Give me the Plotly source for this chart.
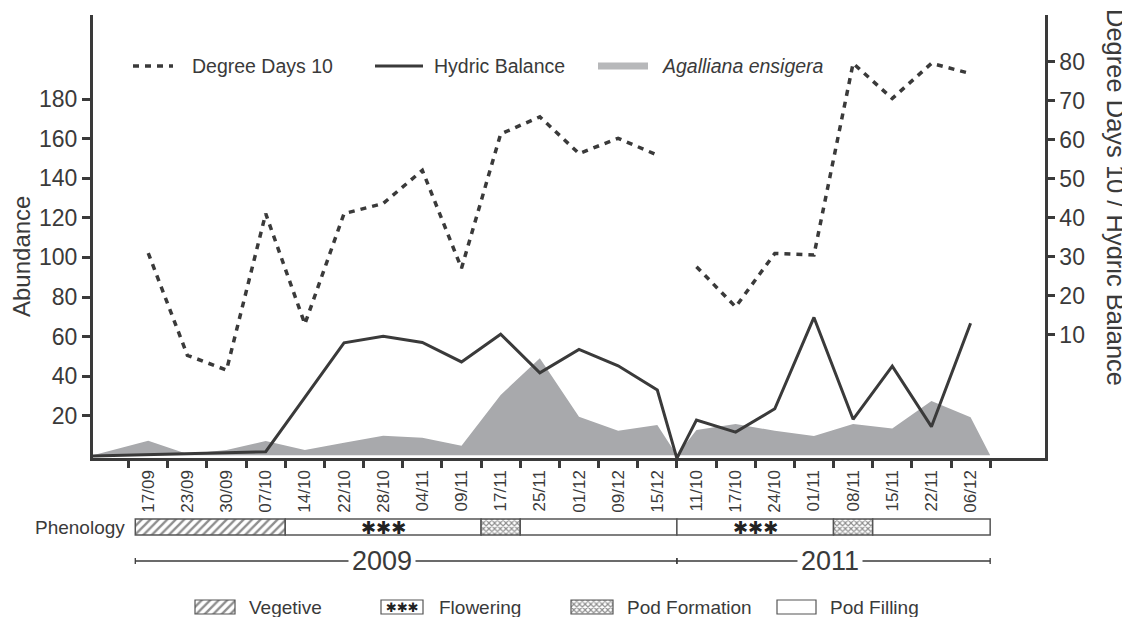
import plotly.graph_objects as go

# ---------------- data ----------------
dates_2009 = ["17/09", "23/09", "30/09", "07/10", "14/10", "22/10", "28/10",
              "04/11", "09/11", "17/11", "25/11", "01/12", "09/12", "15/12"]
dates_2011 = ["11/10", "17/10", "24/10", "01/11", "08/11", "15/11", "22/11", "06/12"]

abundance_2009 = [7.4, 0.7, 2.7, 7.2, 2.7, 6.4, 9.9, 8.9, 4.9, 30.5, 49.0, 19.5, 12.4, 15.3]
abundance_2011 = [12.8, 15.8, 12.4, 9.8, 15.8, 13.6, 27.4, 19.2]

dd10_2009 = [31.0, 4.8, 1.0, 41.1, 12.8, 41.1, 43.7, 52.2, 27.1, 61.5, 65.9, 56.5, 60.4, 56.1]
dd10_2011 = [27.5, 17.2, 30.9, 30.5, 79.6, 70.6, 79.6, 77.0]

hydric_2009 = [-20.6, -20.3, -20.1, -19.9, -6.0, 8.0, 9.7, 8.1, 3.1, 10.2, 0.3, 6.3, 2.1, -4.1]
hydric_2011 = [-11.8, -14.9, -8.9, 14.5, -11.6, 2.0, -13.5, 13.0]
hydric_start = -21.0   # value at the axis origin
hydric_break = -21.6   # value at the gap between the two seasons

left_ticks = [20, 40, 60, 80, 100, 120, 140, 160, 180]
right_ticks = [10, 20, 30, 40, 50, 60, 70, 80]

# phenology stages: (stage, start, end) in category units
phenology = [("Vegetive", -0.33, 3.5), ("Flowering", 3.5, 8.5), ("Pod Formation", 8.5, 9.5),
             ("Pod Filling", 9.5, 13.5), ("Flowering", 13.5, 17.5), ("Pod Formation", 17.5, 18.5),
             ("Pod Filling", 18.5, 21.5)]
seasons = [("2009", -0.33, 13.5, 5.97), ("2011", 13.5, 21.5, 17.41)]

# ---------------- layout helpers ----------------
OFF = 8                      # page body margin of the html page
W, H = 1130 - OFF, 617 - OFF
PLOT_L, PLOT_R, PLOT_T, PLOT_B = 93, 1045, 15, 617   # screen pixels
ML, MR, MT, MB = PLOT_L - OFF, W - (PLOT_R - OFF), PLOT_T - OFF, 0
PW, PH = W - ML - MR, H - MT - MB
INK = "#3a3a3a"
AREA = "#a8a9ac"
FONT = "Liberation Sans, Arial, sans-serif"


def px_x(px):
    return (px - PLOT_L) / PW


def px_y(py):
    return (PLOT_B - py) / PH


X_MIN, X_MAX = -1.41, 22.9
Y_LEFT = [-1.5, 222.5]
Y_RIGHT = [-21.6, 92.0]

dates = dates_2009 + dates_2011
n09, n11 = len(dates_2009), len(dates_2011)
idx09 = list(range(n09))
idx11 = list(range(n09, n09 + n11))
gap = n09 - 0.5
end = n09 + n11 - 0.5

fig = go.Figure()

# Agalliana ensigera area
fig.add_trace(go.Scatter(
    x=[X_MIN] + idx09 + [gap] + idx11 + [end],
    y=[0] + abundance_2009 + [0] + abundance_2011 + [0],
    mode="lines", fill="tozeroy", fillcolor=AREA, line=dict(width=0, color=AREA),
    name="Agalliana ensigera", xaxis="x", yaxis="y"))

# Hydric balance
fig.add_trace(go.Scatter(
    x=[X_MIN] + idx09 + [gap] + idx11,
    y=[hydric_start] + hydric_2009 + [hydric_break] + hydric_2011,
    mode="lines", line=dict(color=INK, width=3), name="Hydric Balance",
    xaxis="x", yaxis="y2", cliponaxis=False))

# Degree days 10
fig.add_trace(go.Scatter(
    x=idx09 + [gap] + idx11,
    y=dd10_2009 + [None] + dd10_2011,
    mode="lines", connectgaps=False,
    line=dict(color=INK, width=3.5, dash="6px,6px"), name="Degree Days 10",
    xaxis="x", yaxis="y2"))

# phenology bar
pattern_for = {
    "Vegetive": dict(shape="/", fgcolor="#1e1e1e", bgcolor="white", size=6, solidity=0.4),
    "Flowering": dict(shape="", bgcolor="white"),
    "Pod Formation": dict(shape="x", fgcolor="#1e1e1e", bgcolor="white", size=4, solidity=0.5),
    "Pod Filling": dict(shape="", bgcolor="white"),
}
for stage, s, e in phenology:
    fig.add_trace(go.Bar(
        x=[e - s], base=[s], y=[0], orientation="h", width=[1],
        marker=dict(color="white", line=dict(color="#555555", width=1.5),
                    pattern=pattern_for[stage]),
        xaxis="x", yaxis="y3", name=stage))

# bottom legend swatches (axis x3 is mapped to screen pixels)
legend_items = [("Vegetive", 195, 235, 247), ("Flowering", 381, 423, 437),
                ("Pod Formation", 571, 613, 625), ("Pod Filling", 777, 816, 828)]
for stage, a, b, _ in legend_items:
    fig.add_trace(go.Bar(
        x=[b - a], base=[a], y=[0], orientation="h", width=[1],
        marker=dict(color="white", line=dict(color="#555555", width=1.2),
                    pattern=pattern_for[stage]),
        xaxis="x3", yaxis="y4", name=stage))

annotations = []
shapes = []

# flowering asterisks
for stage, s, e in phenology:
    if stage == "Flowering":
        annotations.append(dict(x=(s + e) / 2, y=0, xref="x", yref="y3", text="✱✱✱",
                                xanchor="center", yanchor="middle", showarrow=False,
                                font=dict(size=18, color="#222222", family="DejaVu Sans")))
annotations.append(dict(x=(381 + 423) / 2, y=0, xref="x3", yref="y4", text="✱✱✱",
                        xanchor="center", yanchor="middle", showarrow=False,
                        font=dict(size=13, color="#222222", family="DejaVu Sans")))
for stage, a, b, tx in legend_items:
    annotations.append(dict(x=px_x(tx), y=px_y(607), xref="paper", yref="paper", text=stage,
                            xanchor="left", yanchor="middle", showarrow=False,
                            font=dict(size=19, color=INK)))

# season lines
yl = px_y(561)
for label, s, e, cx in seasons:
    shapes.append(dict(type="line", xref="x", yref="paper", x0=s, x1=e, y0=yl, y1=yl,
                       line=dict(color=INK, width=1.3)))
    for xx in (s, e):
        shapes.append(dict(type="line", xref="x", yref="paper", x0=xx, x1=xx,
                           y0=px_y(564), y1=px_y(558), line=dict(color=INK, width=1.3)))
    annotations.append(dict(x=cx, y=yl, xref="x", yref="paper", text=label, showarrow=False,
                            xanchor="center", yanchor="middle",
                            bgcolor="white", borderpad=3, font=dict(size=27, color=INK)))

annotations.append(dict(x=px_x(127), y=px_y(527), xref="paper", yref="paper", text="Phenology",
                        xanchor="right", yanchor="middle", showarrow=False,
                        font=dict(size=19, color=INK)))

# top legend (manual)
ly = px_y(66)
shapes.append(dict(type="line", xref="paper", yref="paper", x0=px_x(133), x1=px_x(173),
                   y0=ly, y1=ly, line=dict(color=INK, width=3.5, dash="6px,6px")))
shapes.append(dict(type="line", xref="paper", yref="paper", x0=px_x(375), x1=px_x(423),
                   y0=ly, y1=ly, line=dict(color=INK, width=3)))
shapes.append(dict(type="line", xref="paper", yref="paper", x0=px_x(598), x1=px_x(648),
                   y0=ly, y1=ly, line=dict(color="#b7b8ba", width=7)))
for txt, x in [("Degree Days 10", 190), ("Hydric Balance", 432), ("<i>Agalliana ensigera</i>", 660)]:
    annotations.append(dict(x=px_x(x), y=ly, xref="paper", yref="paper", text=txt,
                            xanchor="left", yanchor="middle", showarrow=False,
                            font=dict(size=19.5, color=INK)))

# axis titles
annotations.append(dict(x=px_x(22), y=px_y(257), xref="paper", yref="paper", text="Abundance",
                        textangle=-90, xanchor="center", yanchor="middle", showarrow=False,
                        borderpad=0, font=dict(size=24, color=INK)))
annotations.append(dict(x=px_x(1116), y=px_y(197), xref="paper", yref="paper",
                        text="Degree Days 10 / Hydric Balance", xanchor="center", yanchor="middle",
                        textangle=90, showarrow=False, borderpad=0, font=dict(size=25.5, color=INK)))

main_bottom = px_y(458.3)
ph_dom = [px_y(527 + 9.6), px_y(527 - 9.6)]
lg_dom = [px_y(607 + 8.4), px_y(607 - 8.4)]

fig.update_layout(
    width=W, height=H, margin=dict(l=ML, r=MR, t=MT, b=MB),
    plot_bgcolor="white", paper_bgcolor="white", showlegend=False, barmode="overlay",
    font=dict(family=FONT, color=INK),
    xaxis=dict(domain=[0, 1], range=[X_MIN, X_MAX], anchor="y", tickmode="array",
               tickvals=idx09 + idx11, ticktext=dates, tickangle=-90,
               ticks="outside", ticklen=2, tickcolor="rgba(0,0,0,0)",
               tickfont=dict(size=17, color=INK), showline=True, linewidth=3, linecolor=INK,
               showgrid=False, zeroline=False,
               minor=dict(tickmode="array", tickvals=[i - 0.5 for i in range(n09 + n11 + 1)],
                          ticks="outside", ticklen=7, tickwidth=2.5, tickcolor=INK)),
    yaxis=dict(domain=[main_bottom, 1], range=Y_LEFT, anchor="x", tickmode="array",
               tickvals=left_ticks, ticks="outside", ticklen=8, tickwidth=2.5, tickcolor=INK,
               tickfont=dict(size=23, color=INK), showline=True, linewidth=3, linecolor=INK,
               showgrid=False, zeroline=False),
    yaxis2=dict(overlaying="y", side="right", anchor="x", range=Y_RIGHT, tickmode="array",
                tickvals=right_ticks, ticks="outside", ticklen=7, tickwidth=2.5, tickcolor=INK,
                tickfont=dict(size=23, color=INK), showline=True, linewidth=2.5, linecolor=INK,
                showgrid=False, zeroline=False),
    yaxis3=dict(domain=ph_dom, range=[-0.6, 0.6], anchor="x", visible=False),
    xaxis3=dict(domain=[0, 1], range=[PLOT_L, PLOT_R], anchor="y4", visible=False),
    yaxis4=dict(domain=lg_dom, range=[-0.6, 0.6], anchor="x3", visible=False),
    yaxis5=dict(overlaying="y", side="left", anchor="x", range=Y_LEFT, tickmode="array",
                tickvals=left_ticks, ticks="inside", ticklen=7, tickwidth=2.5, tickcolor=INK,
                showticklabels=False, showline=False, showgrid=False, zeroline=False),
    yaxis6=dict(overlaying="y", side="right", anchor="x", range=Y_RIGHT, tickmode="array",
                tickvals=right_ticks, ticks="inside", ticklen=6, tickwidth=2.5, tickcolor=INK,
                showticklabels=False, showline=False, showgrid=False, zeroline=False),
    annotations=annotations, shapes=shapes,
)

fig.write_html("out.html")
